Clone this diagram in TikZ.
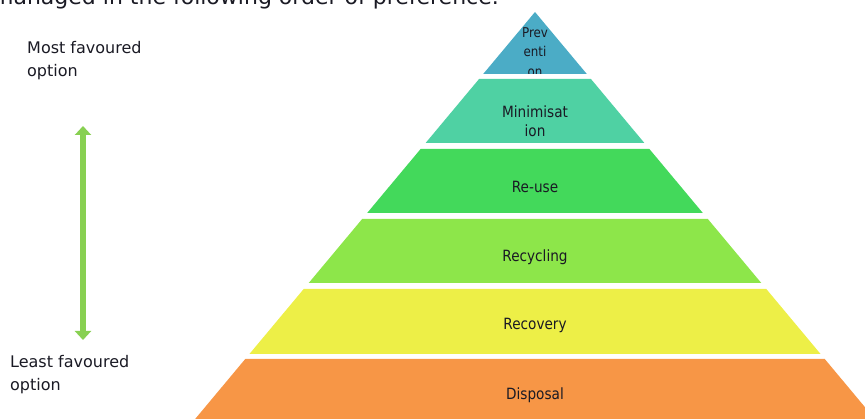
\documentclass[tikz,border=0pt]{standalone}
\usepackage{fontspec}
\setmainfont{DejaVu Sans}
\newfontfamily\labfont[FakeStretch=0.88]{DejaVu Sans}
\usetikzlibrary{arrows.meta}
\definecolor{cPrev}{HTML}{4BACC6}
\definecolor{cMin}{HTML}{4FD1A3}
\definecolor{cReuse}{HTML}{43D95B}
\definecolor{cRecyc}{HTML}{8DE64A}
\definecolor{cRecov}{HTML}{EDEF47}
\definecolor{cDisp}{HTML}{F79646}
\definecolor{cArrow}{HTML}{88D052}
\definecolor{ink}{HTML}{1A1A24}
\newcommand\pyrlayer[3]{%
  \pgfmathsetmacro\pyrT{0.835*(#1-12)}%
  \pgfmathsetmacro\pyrB{0.835*(#2-12)}%
  \fill[#3] (535-\pyrT,#1) -- (535+\pyrT,#1) -- (535+\pyrB,#2) -- (535-\pyrB,#2) -- cycle;}
\begin{document}
\begin{tikzpicture}[x=1pt,y=-1pt,
  lab/.style={inner sep=0pt, text=ink, font=\labfont\fontsize{15.5}{19}\selectfont, align=center},
  side/.style={inner sep=0pt, text=ink, font=\fontsize{16}{22.5}\selectfont, align=left},
  dblarrow/.style={cArrow, line width=6.5pt, {Triangle[width=16pt,length=9pt]}-{Triangle[width=16pt,length=9pt]}}]
\useasboundingbox (0,0) rectangle (865,419);
\clip (0,0) rectangle (865,419);
% intro text, cut by the top edge
\node[anchor=base east, inner sep=0pt, text=ink, font=\fontsize{22}{22}\selectfont] (intro) at (499,5) {managed in the following order of preference.};
% pyramid
\fill[cPrev] (535,12) -- (586.8,74) -- (483.2,74) -- cycle;
\pyrlayer{79}{143}{cMin}
\pyrlayer{149}{213}{cReuse}
\pyrlayer{219}{283}{cRecyc}
\pyrlayer{289}{354}{cRecov}
\pyrlayer{359}{430}{cDisp}
\begin{scope}
  \clip (535,12) -- (586.8,74) -- (483.2,74) -- cycle;
  \node[lab, font=\labfont\fontsize{13.5}{19.5}\selectfont] (prev) at (535,52) {Prev\\enti\\on};
\end{scope}
\node[lab] (min) at (535,121) {Minimisat\\ion};
\node[lab] (reuse) at (535,187) {Re-use};
\node[lab] (recyc) at (535,257) {Recycling};
\node[lab] (recov) at (535,325) {Recovery};
\node[lab] (disp) at (535,395) {Disposal};
% side labels and arrow
\node[side, anchor=base west] (most) at (27,76.5) {Most favoured\\option};
\node[side, anchor=base west] (least) at (10,390.5) {Least favoured\\option};
\coordinate (atop) at (83,126);
\coordinate (abot) at (83,340);
\draw[dblarrow] (atop) -- (abot);
\end{tikzpicture}
\end{document}
